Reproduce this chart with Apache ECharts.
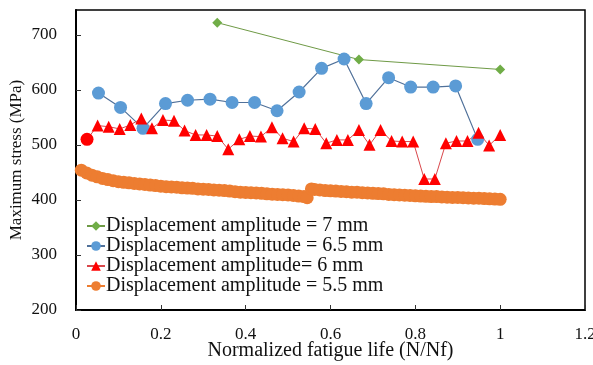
<!DOCTYPE html>
<html>
<head>
<meta charset="utf-8">
<script src="https://cdn.jsdelivr.net/npm/echarts@6/dist/echarts.min.js"></script>
<style>
html,body{margin:0;padding:0;background:#fff;}
#chart{width:593px;height:365px;}
</style>
</head>
<body>
<div id="chart"></div>
<script>
// Series names
var seriesNames = ["Displacement amplitude = 7 mm", "Displacement amplitude = 6.5 mm", "Displacement amplitude= 6 mm", "Displacement amplitude = 5.5 mm"];

// 7 mm
var amp7X = [0.333, 0.667, 1.0];
var amp7Y = [722, 655, 637];

// 6.5 mm
var amp65X = [0.053,0.105,0.158,0.211,0.263,0.316,0.368,0.421,0.474,0.526,0.579,0.632,0.684,0.737,0.789,0.842,0.895,0.947];
var amp65Y = [594,568,530,575,581,583,577,577,562,596,639,656,575,622,605,605,607,510];

// 6 mm
var amp6X = [0.026,0.051,0.077,0.103,0.128,0.154,0.179,0.205,0.231,0.256,0.282,0.308,0.333,0.359,0.385,0.410,0.436,0.462,0.487,0.513,0.538,0.564,0.590,0.615,0.641,0.667,0.692,0.718,0.744,0.769,0.795,0.821,0.846,0.872,0.897,0.923,0.949,0.974,1.0];
var amp6Y = [510,535,533,529,536,548,530,545,544,526,518,518,516,492,510,516,515,532,512,506,530,529,503,509,509,527,500,527,507,506,506,438,438,503,507,507,522,499,518];

// 5.5 mm
var amp55X = [0.0125,0.025,0.0375,0.05,0.0625,0.075,0.0875,0.1,0.1125,0.125,0.1375,0.15,0.1625,0.175,0.1875,0.2,0.2125,0.225,0.2375,0.25,0.2625,0.275,0.2875,0.3,0.3125,0.325,0.3375,0.35,0.3625,0.375,0.3875,0.4,0.4125,0.425,0.4375,0.45,0.4625,0.475,0.4875,0.5,0.5125,0.525,0.5375,0.545,0.555,0.5625,0.575,0.5875,0.6,0.6125,0.625,0.6375,0.65,0.6625,0.675,0.6875,0.7,0.7125,0.725,0.7375,0.75,0.7625,0.775,0.7875,0.8,0.8125,0.825,0.8375,0.85,0.8625,0.875,0.8875,0.9,0.9125,0.925,0.9375,0.95,0.9625,0.975,0.9875,1.0];
var amp55Y = [454,449,445,442,439,437,435,433,432,431,430,429,428,427,426,425,424,423.5,423,422,421.5,421,420,419.5,419,418,417.5,417,416,415,414,413.5,413,412.5,412,411,410.5,410,409.5,409,408,407,406,404,420,419,418,417,416.5,416,415.5,415,414,414,413,412.5,412,411.5,411,410,409.5,409,408.5,408,407.5,407,406.5,406,406,405.5,405,404.5,404.5,404,403.5,403,403,402.5,402,401.5,401];

// Axis ticks
var xMin = 0, xMax = 1.2, xStep = 0.2;
var yMin = 200, yMax = 745, yStep = 100;

function pairs(xs, ys){ return xs.map(function(x,i){ return [x, ys[i]]; }); }

var red6Data = pairs(amp6X, amp6Y).map(function(p, i){
  return i === 0 ? {value: p, symbol: 'circle', symbolSize: 13} : p;
});

var FONT = "'Liberation Serif','Times New Roman',serif";
var chart = echarts.init(document.getElementById('chart'), null, {renderer:'canvas'});
chart.setOption({
  animation: false,
  backgroundColor: '#fff',
  grid: {left: 76, right: 8, top: 10, bottom: 55, containLabel: false, outerBoundsMode: 'none',
         show: true, borderColor: '#000', borderWidth: 1.5, backgroundColor: 'transparent'},
  xAxis: {
    type: 'value', min: xMin, max: xMax, interval: xStep,
    name: 'Normalized fatigue life (N/Nf)', nameLocation: 'middle', nameGap: 31, nameMoveOverlap: false,
    nameTextStyle: {fontFamily: FONT, fontSize: 20, color: '#111'},
    axisLine: {show: true, onZero: false, lineStyle: {color: '#000', width: 2}},
    axisTick: {show: true, inside: true, length: 5, lineStyle: {color: '#333', width: 1}},
    axisLabel: {fontFamily: FONT, fontSize: 17, color: '#111', margin: 16},
    splitLine: {show: false}
  },
  yAxis: {
    type: 'value', min: yMin, max: yMax, interval: yStep,
    name: 'Maximum stress (MPa)', nameLocation: 'middle', nameGap: 51, nameMoveOverlap: false,
    nameTextStyle: {fontFamily: FONT, fontSize: 17, color: '#111'},
    axisLine: {show: true, onZero: false, lineStyle: {color: '#000', width: 2}},
    axisTick: {show: true, inside: true, length: 5, lineStyle: {color: '#333', width: 1}},
    axisLabel: {fontFamily: FONT, fontSize: 17, color: '#111', margin: 19, showMaxLabel: false},
    splitLine: {show: false}
  },
  legend: {
    orient: 'vertical', left: 86, top: 216, itemGap: 0, itemWidth: 18, itemHeight: 12,
    data: seriesNames,
    textStyle: {fontFamily: FONT, fontSize: 20, color: '#111', lineHeight: 20, padding: [0,0,0,-4]},
    padding: 0
  },
  series: [
    {name: seriesNames[0], type: 'line', data: pairs(amp7X, amp7Y), symbol: 'diamond', symbolSize: 10,
     itemStyle: {color: '#70AD47'}, lineStyle: {color: '#6F9A46', width: 1}},
    {name: seriesNames[1], type: 'line', data: pairs(amp65X, amp65Y), symbol: 'circle', symbolSize: 13,
     itemStyle: {color: '#5B9BD5'}, lineStyle: {color: '#50719A', width: 1.2}},
    {name: seriesNames[2], type: 'line', data: red6Data, symbol: 'triangle', symbolSize: 12,
     itemStyle: {color: '#FF0000'}, lineStyle: {color: '#D9474B', width: 1}},
    {name: seriesNames[3], type: 'line', data: pairs(amp55X, amp55Y), symbol: 'circle', symbolSize: 13,
     itemStyle: {color: '#ED7D31'}, lineStyle: {color: '#ED7D31', width: 1}}
  ]
});
</script>
</body>
</html>
